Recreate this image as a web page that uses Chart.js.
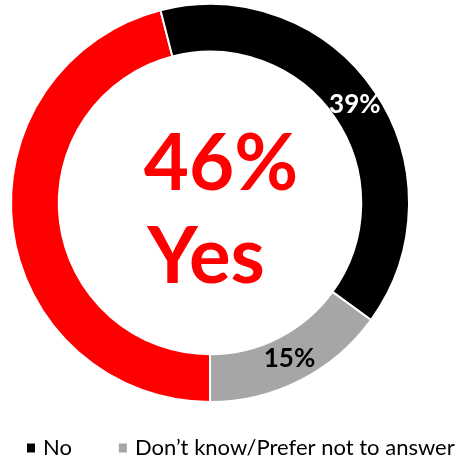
<!DOCTYPE html>
<html>
<head>
<meta charset="utf-8">
<script src="https://cdn.jsdelivr.net/npm/chart.js@4.4.1/dist/chart.umd.min.js"></script>
<style>
  html, body { margin: 0; padding: 0; background: #fff; }
  #wrap { width: 459px; height: 459px; }
</style>
</head>
<body>
<div id="wrap"><canvas id="pollChart" width="459" height="459"></canvas></div>
<script>
// data
const answers = ["Yes", "No", "Don\u2019t know/Prefer not to answer"];
const shares = [46, 39, 15];
const sliceColors = ["#FF0000", "#000000", "#A6A6A6"];
const labelColors = ["#FF0000", "#FFFFFF", "#000000"];
const legendAnswers = ["No", "Don\u2019t know/Prefer not to answer"];

const FONT = "Lato, 'Open Sans', sans-serif";

// percent labels on the ring + big number in the middle
const ringText = {
    id: "ringText",
    afterDatasetsDraw(chart) {
        const ctx = chart.ctx;
        const arcs = chart.getDatasetMeta(0).data;
        ctx.save();
        ctx.textAlign = "center";
        ctx.textBaseline = "middle";
        ctx.font = "bold 26px " + FONT;
        arcs.forEach((arc, i) => {
            if (i === 0) return; // Yes is shown in the middle
            const p = arc.getCenterPoint();
            ctx.fillStyle = labelColors[i];
            ctx.fillText(shares[i] + "%", p.x, p.y);
        });

        const c = arcs[0];
        ctx.fillStyle = labelColors[0];
        ctx.textBaseline = "alphabetic";
        ctx.font = "bold 78px " + FONT;
        ctx.fillText(shares[0] + "%", c.x + 11, c.y - 13);
        ctx.fillText(answers[0], c.x - 4, c.y + 80);
        ctx.restore();
    }
};

// legend under the ring, without the Yes entry
const bottomLegend = {
    id: "bottomLegend",
    afterDraw(chart) {
        const ctx = chart.ctx;
        ctx.save();
        ctx.font = "22px " + FONT;
        ctx.textBaseline = "middle";
        ctx.textAlign = "left";
        let x = 27;
        const y = 448;
        legendAnswers.forEach((name) => {
            const i = chart.data.labels.indexOf(name);
            ctx.fillStyle = sliceColors[i];
            ctx.fillRect(x, y - 4.5, 8, 9);
            ctx.fillStyle = "#000000";
            ctx.fillText(name, x + 16, y);
            x += 16 + ctx.measureText(name).width + 47;
        });
        ctx.restore();
    }
};

const ctx = document.getElementById("pollChart").getContext("2d");

const pollChart = new Chart(ctx, {
    type: "doughnut",
    data: {
        labels: answers,
        datasets: [{
            data: shares,
            backgroundColor: sliceColors,
            borderColor: "#FFFFFF",
            borderWidth: 2,
        }],
    },
    options: {
        responsive: false,
        animation: false,
        rotation: 180,
        cutout: "76%",
        layout: { padding: { left: 10, top: 3, right: 49, bottom: 56 } },
        plugins: {
            legend: { display: false },
            tooltip: { enabled: false },
        },
    },
    plugins: [ringText, bottomLegend],
});
</script>
</body>
</html>
